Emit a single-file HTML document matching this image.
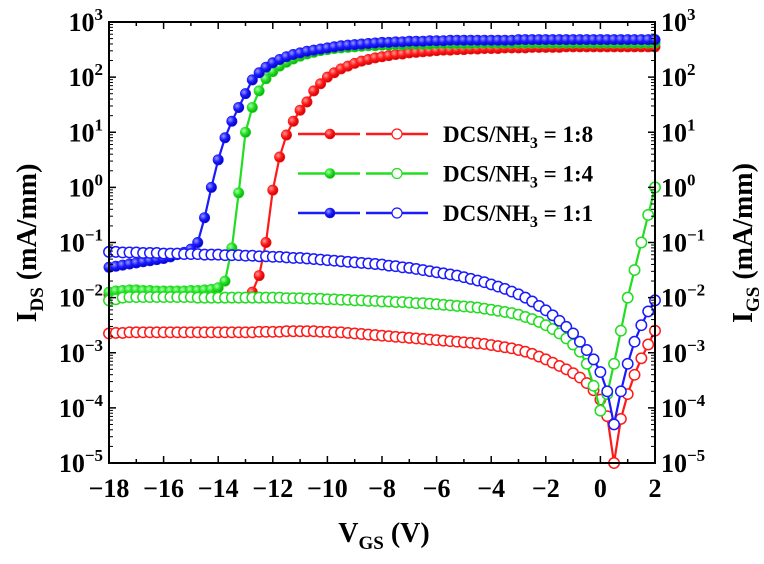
<!DOCTYPE html>
<html><head><meta charset="utf-8"><style>
html,body{margin:0;padding:0;background:#fff;}
svg{display:block;font-family:"Liberation Serif",serif;font-weight:bold;}
</style></head><body>
<svg id="chart" width="764" height="564" viewBox="0 0 764 564" xmlns="http://www.w3.org/2000/svg">
<defs>
<radialGradient id="gr" cx="0.35" cy="0.35" r="0.7"><stop offset="0" stop-color="#ff9a9a"/><stop offset="0.5" stop-color="#ff1a1a"/><stop offset="1" stop-color="#c00000"/></radialGradient>
<radialGradient id="gg" cx="0.35" cy="0.35" r="0.7"><stop offset="0" stop-color="#aaffaa"/><stop offset="0.5" stop-color="#22e022"/><stop offset="1" stop-color="#10a010"/></radialGradient>
<radialGradient id="gb" cx="0.35" cy="0.35" r="0.7"><stop offset="0" stop-color="#9a9aff"/><stop offset="0.5" stop-color="#1a1aff"/><stop offset="1" stop-color="#0000b0"/></radialGradient>
</defs>
<g id="marks"></g>
<g id="axes"></g>
</svg>
<script>
const xTicks = [-18,-16,-14,-12,-10,-8,-6,-4,-2,0,2];
const yExps = [-5,-4,-3,-2,-1,0,1,2,3];
const vStart = -18, vStep = 0.25;
// log10(I_DS) in mA/mm
const idsRed = [-1.95,-1.95,-1.94,-1.94,-1.95,-1.95,-1.96,-1.96,-1.97,-1.97,
 -1.97,-1.98,-1.98,-1.98,-1.99,-1.99,-2.0,-2.0,-2.0,-2.0,
 -2.0,-1.9,-1.6,-1.0,-0.05,0.55,0.95,1.2,1.4,1.55,
 1.75,1.88,2.0,2.08,2.15,2.2,2.25,2.29,2.32,2.35,
 2.37,2.39,2.41,2.42,2.44,2.45,2.46,2.47,2.48,2.49,
 2.49,2.5,2.5,2.51,2.51,2.52,2.52,2.52,2.53,2.53,
 2.53,2.53,2.54,2.54,2.54,2.54,2.54,2.55,2.55,2.55,
 2.55,2.55,2.55,2.55,2.55,2.55,2.55,2.55,2.55,2.55,2.55];
const idsGreen = [-1.9,-1.88,-1.87,-1.86,-1.86,-1.87,-1.87,-1.88,-1.88,-1.88,
 -1.88,-1.88,-1.87,-1.87,-1.86,-1.85,-1.82,-1.7,-1.1,-0.1,
 1.0,1.45,1.75,1.97,2.1,2.2,2.27,2.33,2.38,2.42,
 2.45,2.48,2.5,2.52,2.53,2.54,2.55,2.56,2.57,2.57,
 2.58,2.58,2.59,2.59,2.6,2.6,2.6,2.6,2.61,2.61,
 2.61,2.61,2.61,2.61,2.62,2.62,2.62,2.62,2.62,2.62,
 2.62,2.62,2.62,2.62,2.62,2.62,2.62,2.62,2.62,2.62,
 2.62,2.62,2.62,2.62,2.62,2.62,2.62,2.62,2.62,2.62,2.62];
const idsBlue = [-1.45,-1.43,-1.41,-1.39,-1.37,-1.35,-1.33,-1.31,-1.29,-1.26,
 -1.22,-1.18,-1.12,-1.0,-0.55,0.0,0.5,0.9,1.2,1.45,
 1.7,1.95,2.08,2.18,2.26,2.32,2.37,2.41,2.44,2.47,
 2.49,2.51,2.53,2.55,2.57,2.58,2.59,2.6,2.61,2.62,
 2.63,2.63,2.64,2.64,2.65,2.65,2.65,2.66,2.66,2.66,
 2.67,2.67,2.67,2.67,2.67,2.67,2.67,2.67,2.67,2.67,
 2.68,2.68,2.68,2.68,2.68,2.68,2.68,2.68,2.68,2.68,
 2.68,2.68,2.68,2.68,2.68,2.68,2.68,2.68,2.68,2.68,2.68];
// log10(I_GS) in mA/mm
const igsRed = [-2.65,-2.64,-2.64,-2.63,-2.63,-2.63,-2.63,-2.63,-2.63,-2.63,
 -2.63,-2.63,-2.63,-2.63,-2.63,-2.63,-2.63,-2.63,-2.63,-2.63,
 -2.63,-2.63,-2.62,-2.62,-2.62,-2.62,-2.61,-2.61,-2.61,-2.61,
 -2.61,-2.62,-2.62,-2.63,-2.63,-2.64,-2.65,-2.66,-2.67,-2.68,
 -2.69,-2.7,-2.71,-2.72,-2.73,-2.74,-2.75,-2.76,-2.77,-2.78,
 -2.79,-2.8,-2.81,-2.82,-2.83,-2.84,-2.86,-2.88,-2.9,-2.92,
 -2.95,-2.98,-3.02,-3.07,-3.12,-3.18,-3.24,-3.3,-3.37,-3.45,
 -3.55,-3.68,-3.85,-4.15,-5.0,-4.2,-3.75,-3.4,-3.1,-2.85,-2.6];
const igsGreen = [-2.05,-2.03,-2.0,-1.99,-1.99,-1.99,-1.99,-1.99,-1.99,-1.99,
 -1.99,-1.99,-1.99,-2.0,-2.0,-2.0,-2.0,-2.0,-2.0,-2.0,
 -2.0,-2.0,-2.0,-2.0,-2.0,-2.0,-2.01,-2.01,-2.01,-2.02,
 -2.02,-2.02,-2.03,-2.03,-2.04,-2.04,-2.05,-2.05,-2.06,-2.06,
 -2.07,-2.07,-2.08,-2.08,-2.09,-2.1,-2.1,-2.11,-2.12,-2.13,
 -2.14,-2.15,-2.16,-2.17,-2.18,-2.2,-2.22,-2.24,-2.26,-2.28,
 -2.31,-2.35,-2.39,-2.44,-2.5,-2.57,-2.65,-2.74,-2.85,-2.98,
 -3.2,-3.6,-4.05,-3.75,-3.2,-2.6,-2.0,-1.5,-1.0,-0.5,0.0];
const igsBlue = [-1.17,-1.17,-1.18,-1.18,-1.18,-1.19,-1.19,-1.19,-1.2,-1.2,
 -1.2,-1.21,-1.21,-1.21,-1.22,-1.22,-1.22,-1.23,-1.23,-1.23,
 -1.24,-1.24,-1.25,-1.25,-1.26,-1.26,-1.27,-1.28,-1.28,-1.29,
 -1.3,-1.31,-1.32,-1.33,-1.34,-1.35,-1.36,-1.37,-1.38,-1.39,
 -1.4,-1.42,-1.43,-1.45,-1.46,-1.48,-1.5,-1.52,-1.54,-1.56,
 -1.58,-1.6,-1.63,-1.66,-1.69,-1.72,-1.76,-1.8,-1.84,-1.89,
 -1.94,-2.0,-2.07,-2.15,-2.23,-2.32,-2.42,-2.53,-2.65,-2.8,
 -2.95,-3.12,-3.35,-3.7,-4.3,-3.7,-3.2,-2.8,-2.5,-2.25,-2.05];
const legendLabels = ["1:8","1:4","1:1"];

const NS="http://www.w3.org/2000/svg";
const L=109,R=655,T=22,B=463;
const xS=v=>L+(v+18)/20*(R-L);
const yS=lg=>B-(lg+5)/8*(B-T);
const marks=document.getElementById('marks'), axes=document.getElementById('axes');
function mk(tag,attrs,parent){const e=document.createElementNS(NS,tag);for(const k in attrs)e.setAttribute(k,attrs[k]);parent.appendChild(e);return e;}
const cols={r:'#ff1a1a',g:'#22dd22',b:'#1a1aff'};
function series(arr,col,grad,filled,name){
  const g=mk('g',{},marks);
  
  
  const pts=arr.map((lg,i)=>xS(vStart+i*vStep).toFixed(1)+','+yS(Math.max(lg,-5)).toFixed(1)).join(' ');
  mk('polyline',{points:pts,fill:'none',stroke:col,'stroke-width':2.2},g);
  arr.forEach((lg,i)=>{
    const c=mk('circle',{cx:xS(vStart+i*vStep),cy:yS(Math.max(lg,-5)),r:5.2,fill:filled?'url(#'+grad+')':'#fff',stroke:col,'stroke-width':filled?0.6:1.5},g);
    
    
  });
}
series(idsRed,cols.r,'gr',true,'ids-1-8');
series(idsGreen,cols.g,'gg',true,'ids-1-4');
series(idsBlue,cols.b,'gb',true,'ids-1-1');
series(igsRed,cols.r,'gr',false,'igs-1-8');
series(igsGreen,cols.g,'gg',false,'igs-1-4');
series(igsBlue,cols.b,'gb',false,'igs-1-1');

const fr=mk('rect',{x:L,y:T,width:R-L,height:B-T,fill:'none',stroke:'#000','stroke-width':2},axes);


for(let v=-18;v<=2;v+=1){
  const major=v%2===0, len=major?7:4, x=xS(v);
  mk('line',{x1:x,y1:B,x2:x,y2:B-len,stroke:'#000','stroke-width':1.5},axes);
  mk('line',{x1:x,y1:T,x2:x,y2:T+len,stroke:'#000','stroke-width':1.5},axes);
}
xTicks.forEach(v=>{
  const t=mk('text',{x:xS(v),y:497,'text-anchor':'middle','font-size':26},axes);
  t.textContent=(v<0?'\u2212':'')+Math.abs(v);
  
  
});
yExps.forEach(e=>{
  const y=yS(e);
  mk('line',{x1:L,y1:y,x2:L+7,y2:y,stroke:'#000','stroke-width':1.5},axes);
  mk('line',{x1:R,y1:y,x2:R-7,y2:y,stroke:'#000','stroke-width':1.5},axes);
  if(e<3){for(let m=2;m<=9;m++){const ym=yS(e+Math.log10(m));
    mk('line',{x1:L,y1:ym,x2:L+4,y2:ym,stroke:'#000','stroke-width':1},axes);
    mk('line',{x1:R,y1:ym,x2:R-4,y2:ym,stroke:'#000','stroke-width':1},axes);}}
  const sup=(e<0?'\u2212':'')+Math.abs(e);
  const tl=mk('text',{x:L-6,y:y+9,'text-anchor':'end','font-size':26},axes);
  tl.innerHTML='10<tspan dy="-11" font-size="17">'+sup+'</tspan>';
  
  
  const tr=mk('text',{x:R+6,y:y+9,'text-anchor':'start','font-size':26},axes);
  tr.innerHTML='10<tspan dy="-11" font-size="17">'+sup+'</tspan>';
  
  
});
const yl=mk('text',{x:0,y:0,'text-anchor':'middle','font-size':28,transform:'translate(36,243) rotate(-90)'},axes);
yl.innerHTML='I<tspan dy="7" font-size="19">DS</tspan><tspan dy="-7"> (mA/mm)</tspan>';


const yr=mk('text',{x:0,y:0,'text-anchor':'middle','font-size':28,transform:'translate(752,243) rotate(-90)'},axes);
yr.innerHTML='I<tspan dy="7" font-size="19">GS</tspan><tspan dy="-7"> (mA/mm)</tspan>';


const xl=mk('text',{x:384,y:542,'text-anchor':'middle','font-size':28},axes);
xl.innerHTML='V<tspan dy="7" font-size="19">GS</tspan><tspan dy="-7"> (V)</tspan>';


const lgCols=[[cols.r,'gr'],[cols.g,'gg'],[cols.b,'gb']];
legendLabels.forEach((lab,i)=>{
  const y=134+i*39.5;
  const g=mk('g',{},axes);
  
  
  const [c,gr]=lgCols[i];
  mk('line',{x1:298,y1:y,x2:360,y2:y,stroke:c,'stroke-width':2.5},g);
  mk('line',{x1:366,y1:y,x2:428,y2:y,stroke:c,'stroke-width':2.5},g);
  mk('circle',{cx:330,cy:y,r:5,fill:'url(#'+gr+')',stroke:c,'stroke-width':0.6},g);
  mk('circle',{cx:397,cy:y,r:5,fill:'#fff',stroke:c,'stroke-width':1.2},g);
  const t=mk('text',{x:443,y:y+8,'font-size':23},g);
  t.innerHTML='DCS/NH<tspan dy="6" font-size="16">3</tspan><tspan dy="-6"> = '+lab+'</tspan>';
});
</script>
</body></html>
